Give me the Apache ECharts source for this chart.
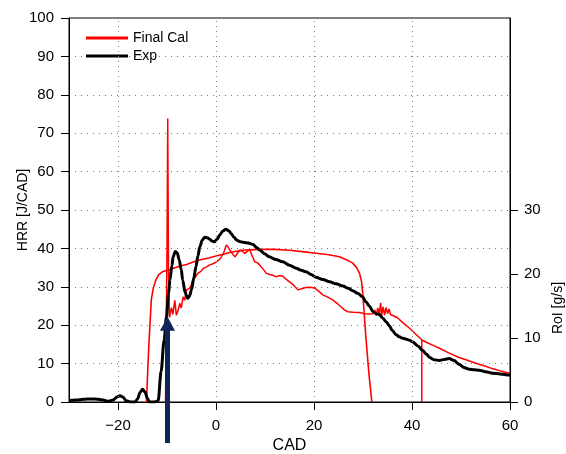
<!DOCTYPE html>
<html>
<head>
<meta charset="utf-8">
<script src="https://cdn.jsdelivr.net/npm/echarts@6/dist/echarts.min.js"></script>
<style>html,body{margin:0;padding:0;background:#fff}#c{width:566px;height:454px}</style>
</head>
<body>
<div id="c"></div>
<script>
// ---- data ----
const xTicks = [-20, 0, 20, 40, 60];
const xGridLines = [-20, 0, 20, 40];
const rightTicks = [0, 10, 20, 30];

// Final Cal HRR [J/CAD] : [CAD, HRR]
const calHRR = [
  [-10.3, 0], [-10.0, 40], [-9.85, 73.8], [-9.7, 35], [-9.5, 22], [-9.1, 24.6], [-8.8, 22.8],
  [-8.4, 26.5], [-8.1, 22.6], [-7.7, 24.0], [-7.4, 25.7], [-7.1, 24.5], [-6.7, 27.4], [-6.4, 26.5],
  [-6.0, 29.2], [-5.4, 29.6], [-5.0, 30.5], [-4.7, 31.8], [-4.2, 32.5], [-3.7, 33.5], [-3.1, 34.0],
  [-2.6, 34.8], [-1.9, 35.2], [-1.3, 35.7], [-0.6, 36.0], [0.1, 36.5], [0.6, 37.0], [1.1, 37.8],
  [1.6, 39.0], [2.1, 40.9], [2.5, 40.3], [2.9, 39.4], [3.4, 38.5], [3.9, 37.8], [4.4, 38.8],
  [4.9, 39.6], [5.4, 39.2], [5.9, 38.7], [6.4, 39.3], [6.9, 39.6], [7.4, 38.0], [7.9, 36.5],
  [8.4, 36.3], [8.9, 35.7], [9.5, 34.8], [10.3, 33.5], [11.0, 33.2], [11.6, 33.0], [12.3, 32.6],
  [13.0, 32.9], [13.6, 32.8], [14.3, 32.0], [15.0, 31.3], [15.8, 30.5], [16.7, 29.2], [17.5, 29.5],
  [18.3, 29.8], [19.1, 29.9], [20.1, 29.7], [21.0, 28.8], [21.8, 27.9], [22.8, 27.3], [23.8, 26.6],
  [24.7, 25.7], [25.5, 24.8], [26.2, 24.0], [26.9, 23.5], [28.0, 23.4], [29.3, 23.3], [30.3, 23.0],
  [31.3, 22.9], [32.0, 23.0], [32.4, 24.0], [32.7, 22.5], [33.0, 24.5], [33.3, 22.8], [33.6, 25.8],
  [33.8, 22.5], [34.1, 24.8], [34.4, 22.6], [34.7, 24.6], [35.0, 23.0], [35.3, 24.2], [35.6, 22.8],
  [36.0, 23.1], [37.0, 22.0], [38.0, 20.8], [39.5, 19.2], [41.0, 17.4], [42.0, 16.2], [42.0, 0],
  [42.0, 16.2], [43.0, 15.5], [44.2, 14.8], [45.6, 14.0], [47.5, 12.8], [49.6, 11.6], [51.0, 11.0],
  [53.0, 10.1], [55.0, 9.3], [56.4, 8.7], [58.0, 8.1], [60.0, 7.5]
];

// Final Cal rate of injection RoI [g/s] : [CAD, RoI]
const calRoI = [
  [-14.2, 0], [-13.7, 9], [-13.2, 16.0], [-12.8, 17.8], [-12.3, 19.0], [-11.7, 19.9], [-10.8, 20.4],
  [-9.4, 20.7], [-7.5, 21.2], [-6.0, 21.5], [-4.5, 21.9], [-3.3, 22.2], [-1.5, 22.5], [0, 22.8],
  [1.5, 23.1], [2.8, 23.35], [4.5, 23.6], [6.0, 23.75], [9.0, 23.85], [12.0, 23.85], [15.0, 23.7],
  [18.0, 23.45], [20.4, 23.25], [23.0, 23.0], [25.2, 22.7], [26.7, 22.2], [27.9, 21.7], [28.7, 21.0],
  [29.3, 20.1], [29.7, 18.8], [29.95, 17.0], [30.6, 10.0], [31.2, 4.5], [31.8, 0]
];

// Exp HRR [J/CAD] : [CAD, HRR]
const expHRR = [
  [-30, 0.4], [-28.5, 0.5], [-27, 0.7], [-25.5, 0.8], [-24, 0.7], [-23, 0.5], [-22, 0.2], [-21, 0.5],
  [-20.2, 1.3], [-19.6, 1.6], [-19, 1.3], [-18.3, 0.3], [-17.5, 0], [-16.5, 0], [-16, 0.8], [-15.5, 2.5],
  [-15, 3.3], [-14.5, 2.6], [-14, 1], [-13.6, 0], [-12.5, 0], [-11.8, 0.3], [-11.2, 8], [-10.6, 16],
  [-10.1, 22.2], [-9.7, 28], [-9.4, 31.8], [-9.0, 35.5], [-8.75, 37.8], [-8.3, 39.2], [-7.9, 38.8],
  [-7.5, 37], [-7.1, 34.5], [-6.8, 31.8], [-6.3, 28.5], [-5.8, 27], [-5.4, 27.6], [-5.0, 29.2],
  [-4.5, 32.5], [-4.1, 35.2], [-3.7, 38], [-3.3, 40.4], [-2.8, 42.2], [-2.3, 42.9], [-1.8, 42.8],
  [-1.3, 42.4], [-0.8, 41.9], [-0.3, 41.7], [0.3, 42.5], [0.75, 43.5], [1.4, 44.5], [2.0, 45],
  [2.6, 44.6], [3.1, 43.9], [3.6, 43], [4.2, 42.2], [4.8, 41.8], [5.5, 41.6], [6.2, 41.5], [6.9, 41.3],
  [7.6, 41.0], [8.2, 40.3], [8.9, 39.6], [9.9, 38.6], [10.9, 37.8], [12.2, 37.1], [13.6, 36.5],
  [15.0, 35.6], [16.4, 34.8], [17.4, 34.3], [18.4, 33.9], [19.4, 33.2], [20.4, 32.5], [21.8, 31.9],
  [23.2, 31.3], [24.5, 30.8], [25.9, 30.2], [27.0, 29.6], [27.9, 29.0], [28.9, 28.3], [29.9, 27.4],
  [30.6, 26.1], [31.3, 25.0], [32.0, 23.6], [32.7, 23.0], [33.3, 22.8], [34.0, 21.9], [34.7, 20.9],
  [35.4, 19.8], [36.0, 18.6], [36.7, 17.6], [37.4, 17.0], [38.1, 16.6], [39.5, 16.1], [40.1, 15.7],
  [41.2, 14.6], [42.2, 13.4], [42.9, 12.5], [43.6, 11.6], [44.5, 11.0], [45.6, 10.8], [46.6, 11.1],
  [47.6, 11.3], [48.6, 10.8], [49.6, 9.8], [50.6, 9.0], [51.7, 8.5], [52.7, 8.4], [53.7, 8.3],
  [55.0, 7.9], [56.4, 7.5], [58.0, 7.3], [59.8, 7.0], [60, 7.0]
];

// Arrow annotation: at CAD, from HRR bottom to HRR tip
const arrowCad = -9.9;
const arrowFrom = -10.7;
const arrowTo = 22.2;

// ---- chart ----
const FONT = "'Liberation Sans', Arial, Helvetica, sans-serif";
const chart = echarts.init(document.getElementById('c'), null, {renderer: 'canvas'});
const minusFmt = v => String(v).replace('-', '\u2212');

const rotName = {
  type: 'text', x: 558, y: 308, rotation: Math.PI / 2,
  style: {text: 'RoI [g/s]', font: '14px ' + FONT, fill: '#000', align: 'center', verticalAlign: 'middle'}
};

chart.setOption({
  animation: false,
  textStyle: {fontFamily: FONT},
  grid: {left: 69, right: 56, top: 18, bottom: 52, show: true, borderColor: '#000', borderWidth: 1,
    containLabel: false, outerBoundsMode: 'none'},
  legend: {
    data: [{name: 'Final Cal', icon: 'rect'}, {name: 'Exp', icon: 'rect'}],
    orient: 'vertical', left: 86, top: 31, padding: 0,
    itemWidth: 42, itemHeight: 3, itemGap: 4,
    textStyle: {fontSize: 14, color: '#000', fontFamily: FONT}
  },
  xAxis: {
    type: 'value', min: -30, max: 60,
    name: 'CAD', nameLocation: 'middle', nameGap: 36, nameMoveOverlap: false,
    nameTextStyle: {fontSize: 16, color: '#000', fontFamily: FONT},
    axisLine: {onZero: false, lineStyle: {color: '#000', width: 1}},
    axisTick: {show: true, length: 8, customValues: xTicks, lineStyle: {color: '#000'}},
    axisLabel: {customValues: xTicks, fontSize: 15, color: '#000', margin: 16, formatter: minusFmt, fontFamily: FONT},
    splitLine: {show: false}
  },
  yAxis: [{
    type: 'value', min: 0, max: 100, interval: 10,
    name: 'HRR [J/CAD]', nameLocation: 'middle', nameGap: 39, nameMoveOverlap: false,
    nameTextStyle: {fontSize: 14, color: '#000', fontFamily: FONT},
    axisLine: {show: true, onZero: false, lineStyle: {color: '#000', width: 1}},
    axisTick: {show: true, length: 8, lineStyle: {color: '#000'}},
    axisLabel: {fontSize: 15, color: '#000', margin: 15, fontFamily: FONT},
    splitLine: {show: true, lineStyle: {color: '#777', width: 1, type: [1, 5]}}
  }, {
    type: 'value', min: 0, max: 60, interval: 10, position: 'right',
    axisLine: {show: true, onZero: false, lineStyle: {color: '#000', width: 1}},
    axisTick: {show: true, length: 8, customValues: rightTicks, lineStyle: {color: '#000'}},
    axisLabel: {customValues: rightTicks, fontSize: 15, color: '#000', margin: 14, fontFamily: FONT,
      formatter: v => (v <= 30 ? String(v) : '')},
    splitLine: {show: false}
  }],
  graphic: [rotName],
  series: [{
    name: 'grid', type: 'line', data: [], z: 1, silent: true,
    markLine: {
      silent: true, symbol: ['none', 'none'], label: {show: false},
      lineStyle: {color: '#888', width: 1, type: [1, 4]},
      data: xGridLines.map(v => ({xAxis: v}))
    }
  }, {
    name: 'Final Cal', type: 'line', data: calHRR, symbol: 'none', z: 3,
    lineStyle: {color: '#ff0000', width: 1.5}, itemStyle: {color: '#ff0000'}
  }, {
    name: 'Final Cal RoI', type: 'line', yAxisIndex: 1, data: calRoI, symbol: 'none', z: 3,
    lineStyle: {color: '#ff0000', width: 1.6}, itemStyle: {color: '#ff0000'}
  }, {
    name: 'Exp', type: 'line', data: expHRR, symbol: 'none', smooth: 0.3, smoothMonotone: 'x', z: 4,
    lineStyle: {color: '#000', width: 3}, itemStyle: {color: '#000'}
  }]
});

// arrow annotation placed through the chart's own axes
const pTop = chart.convertToPixel({xAxisIndex: 0, yAxisIndex: 0}, [arrowCad, arrowTo]);
const pBot = chart.convertToPixel({xAxisIndex: 0, yAxisIndex: 0}, [arrowCad, arrowFrom]);
const headH = 14, headW = 15;
chart.setOption({
  graphic: [rotName, {
    type: 'line', z: 100,
    shape: {x1: pBot[0], y1: pBot[1], x2: pTop[0], y2: pTop[1] + headH - 1},
    style: {stroke: '#102656', lineWidth: 5}
  }, {
    type: 'polygon', z: 100,
    shape: {points: [[pTop[0], pTop[1]], [pTop[0] - headW / 2, pTop[1] + headH], [pTop[0] + headW / 2, pTop[1] + headH]]},
    style: {fill: '#102656'}
  }]
});
</script>
</body>
</html>
